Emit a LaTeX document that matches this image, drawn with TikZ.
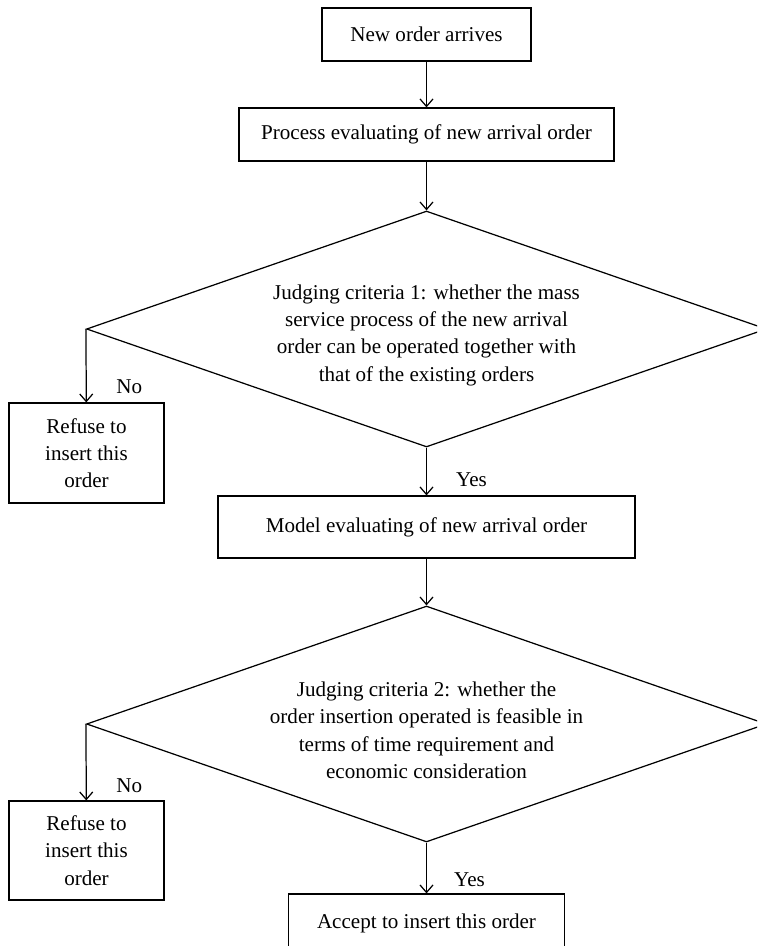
\documentclass[tikz,border=0pt]{standalone}
\usepackage{fontspec}
\setmainfont{Liberation Serif}
\usetikzlibrary{shapes.geometric,arrows.meta}

\tikzset{
  box/.style={draw, line width=0.7pt, inner sep=0pt, align=center},
  crit/.style={draw, diamond, aspect=2.88, line width=0.7pt, inner sep=0pt, align=center,
    minimum width=13.6cm, minimum height=4.72cm, text height=62pt},
  arr/.style={line width=0.7pt, -{Straight Barb[length=1.5mm,width=2.6mm]}},
  lbl/.style={inner sep=0pt}
}

\begin{document}
\begin{tikzpicture}[x=0.02cm, y=-0.02cm, font=\fontsize{12}{15.5}\selectfont]
\useasboundingbox (0,0) rectangle (757,946);
\clip (0,0) rectangle (757,946);

\node[box, minimum width=4.18cm, minimum height=1.06cm] (new) at (426.5,34.5) {New order arrives};
\node[box, minimum width=7.5cm, minimum height=1.06cm] (proc) at (426.5,134.5) {Process evaluating of new arrival order};
\node[crit] (crit1) at (426.5,329) {Judging criteria 1: whether the mass\\service process of the new arrival\\order can be operated together with\\that of the existing orders};
\node[box, minimum width=3.1cm, minimum height=2cm] (refuse1) at (86.5,453) {Refuse to\\insert this\\order};
\node[box, minimum width=8.34cm, minimum height=1.24cm] (model) at (426.5,527) {Model evaluating of new arrival order};
\node[crit] (crit2) at (426.5,724) {Judging criteria 2: whether the\\order insertion operated is feasible in\\terms of time requirement and\\economic consideration};
\node[box, minimum width=3.1cm, minimum height=1.98cm] (refuse2) at (86.5,850.5) {Refuse to\\insert this\\order};
\node[box, minimum width=5.52cm, minimum height=1.16cm] (accept) at (426.5,923) {Accept to insert this order};

\draw[arr] (new) -- (proc);
\draw[arr] (proc) -- (crit1);
\draw[arr] (crit1.west) -- (refuse1) node[lbl, pos=0.78, xshift=0.86cm] {No};
\draw[arr] (crit1.south) -- (model) node[lbl, pos=0.67, xshift=0.9cm] {Yes};
\draw[arr] (model) -- (crit2);
\draw[arr] (crit2.west) -- (refuse2) node[lbl, pos=0.81, xshift=0.86cm] {No};
\draw[arr] (crit2.south) -- (accept) node[lbl, pos=0.73, xshift=0.86cm] {Yes};
\end{tikzpicture}
\end{document}
